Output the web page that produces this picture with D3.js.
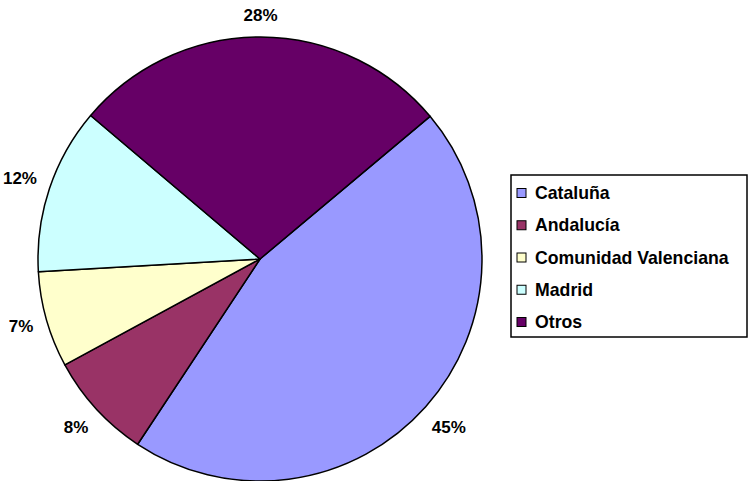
<!DOCTYPE html>
<html>
<head>
<meta charset="utf-8">
<script src="https://cdn.jsdelivr.net/npm/d3@7"></script>
<style>
  body { margin: 0; background: #fff; }
  svg text { font-family: "Liberation Sans", Arial, sans-serif; font-weight: bold; fill: #000; }
</style>
</head>
<body>
<div id="chart"></div>
<script>
var regiones = ['Cataluña', 'Andalucía', 'Comunidad Valenciana', 'Madrid', 'Otros'];
var valores = [45.4, 7.8, 7.0, 12.1, 27.7];
var colores = ['#9999ff', '#993366', '#ffffcc', '#ccffff', '#660066'];

var width = 753, height = 481;
var cx = 260, cy = 259, radius = 222;

var svg = d3.select('#chart').append('svg')
    .attr('width', width)
    .attr('height', height);

var total = d3.sum(valores);
var startAngle = 50 * Math.PI / 180;

var pie = d3.pie()
    .sort(null)
    .startAngle(startAngle)
    .endAngle(startAngle + 2 * Math.PI)
    .value(function(d) { return d; });

var arcs = pie(valores);

var arc = d3.arc().innerRadius(0).outerRadius(radius);

var g = svg.append('g').attr('transform', 'translate(' + cx + ',' + cy + ')');

g.selectAll('path.slice')
    .data(arcs)
    .enter()
    .append('path')
    .attr('class', 'slice')
    .attr('d', arc)
    .attr('fill', function(d, i) { return colores[i]; })
    .attr('stroke', '#000')
    .attr('stroke-width', 1.5)
    .attr('stroke-linejoin', 'round');

// etiquetas fuera del pastel, separadas segun el tamaño del texto
var fmt = function(v) { return Math.round(v / total * 100) + '%'; };
g.selectAll('text.pct')
    .data(arcs)
    .enter()
    .append('text')
    .attr('class', 'pct')
    .attr('text-anchor', 'middle')
    .attr('dominant-baseline', 'central')
    .style('font-size', '17px')
    .text(function(d) { return fmt(d.value); })
    .each(function(d) {
        var bb = this.getBBox();
        var a = (d.startAngle + d.endAngle) / 2;
        var s = Math.sin(a), c = -Math.cos(a);
        var ext = Math.abs(s) * bb.width / 2 + Math.abs(c) * bb.height / 2;
        var r = radius + 12 + ext;
        d3.select(this).attr('x', s * r).attr('y', c * r);
    });

// leyenda
var legend = svg.append('g').attr('transform', 'translate(511,175)');
legend.append('rect')
    .attr('width', 236)
    .attr('height', 162)
    .attr('fill', '#fff')
    .attr('stroke', '#000')
    .attr('stroke-width', 1.5);

var rowY = d3.scalePoint().domain(regiones).range([18, 147]);

var items = legend.selectAll('g.item')
    .data(regiones)
    .enter()
    .append('g')
    .attr('class', 'item')
    .attr('transform', function(d) { return 'translate(0,' + rowY(d) + ')'; });

items.append('rect')
    .attr('x', 6)
    .attr('y', -4.5)
    .attr('width', 9)
    .attr('height', 9)
    .attr('fill', function(d, i) { return colores[i]; })
    .attr('stroke', '#000')
    .attr('stroke-width', 1);

items.append('text')
    .attr('x', 24)
    .attr('dominant-baseline', 'central')
    .style('font-size', '17.7px')
    .text(function(d) { return d; });
</script>
</body>
</html>
